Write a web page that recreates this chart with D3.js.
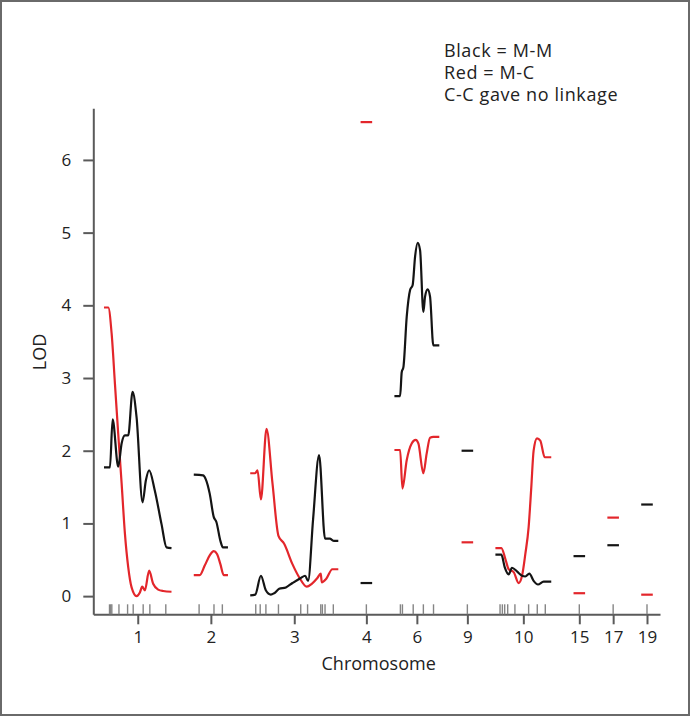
<!DOCTYPE html>
<html>
<head>
<meta charset="utf-8">
<script src="https://cdn.jsdelivr.net/npm/d3@7"></script>
<style>
  html, body { margin: 0; padding: 0; background: #fff; }
  svg text { font-family: "Open Sans", sans-serif; fill: #222; }
</style>
</head>
<body>
<div id="chart"></div>
<script>
const width = 691;
const height = 717;

// chromosomes on the axis, their lengths (cM) and the gap between them
const chromosomes = ["1", "2", "3", "4", "6", "9", "10", "15", "17", "19"];
const chromLengths = [75.8, 38.4, 98.9, 13, 50.4, 13, 62.7, 13, 13, 13];
const gapCM = 25;

// M-M scans (black), [cM, LOD]
const mm1 = [[0,1.77],[6.7,1.77],[9.7,2.43],[16.0,1.78],[19.8,2.10],[23.5,2.21],[27.2,2.21],[32.1,2.81],[36.6,2.46],[43.3,1.29],[47.0,1.59],[50.7,1.73],[57.1,1.45],[64.6,0.99],[70.2,0.67],[75.8,0.66]];
const mm2 = [[0,1.67],[10.4,1.66],[13.4,1.61],[17.9,1.41],[22.4,1.09],[25.4,1.02],[29.9,0.76],[32.8,0.67],[38.4,0.67]];
const mm3 = [[0,0.01],[5.6,0.02],[12.0,0.28],[17.5,0.08],[23.1,0.02],[26.9,0.04],[32.5,0.10],[40.0,0.12],[47.4,0.18],[56.8,0.25],[61.6,0.28],[65.0,0.21],[70.6,1.06],[77.3,1.94],[84.0,0.79],[89.3,0.79],[94.1,0.76],[98.9,0.76]];
const mm6 = [[0,2.75],[6.4,2.75],[8.2,3.08],[10.1,3.15],[13.8,3.84],[17.6,4.21],[20.5,4.28],[23.2,4.67],[26.1,4.86],[28.8,4.76],[32.5,3.91],[34.4,4.12],[37.3,4.22],[40.0,4.12],[43.7,3.45],[50.4,3.45]];
const mm10 = [[0,0.57],[6.7,0.57],[10.4,0.40],[14.9,0.30],[18.6,0.39],[24.2,0.34],[29.9,0.28],[33.6,0.27],[38.1,0.31],[42.9,0.21],[47.8,0.16],[54.1,0.20],[62.7,0.20]];

// M-C scans (red)
const mc1 = [[0,3.97],[4.8,3.97],[8.6,3.61],[12.3,2.92],[16.0,2.23],[19.8,1.55],[23.5,0.86],[27.2,0.40],[31.0,0.12],[36.6,0.00],[40.3,0.05],[42.9,0.13],[45.9,0.08],[50.7,0.35],[55.2,0.17],[60.8,0.09],[66.4,0.07],[75.8,0.06]];
const mc2 = [[0,0.29],[6.7,0.29],[12.3,0.42],[17.9,0.56],[22.4,0.62],[26.1,0.58],[29.9,0.44],[33.6,0.29],[38.4,0.29]];
const mc3 = [[0,1.69],[5.6,1.69],[8.2,1.73],[12.0,1.33],[18.3,2.30],[25.0,1.55],[31.7,0.83],[38.1,0.72],[47.4,0.44],[54.9,0.26],[63.5,0.13],[69.1,0.17],[75.4,0.25],[79.2,0.31],[80.3,0.19],[85.4,0.24],[92.2,0.37],[98.9,0.37]];
const mc6 = [[0,2.01],[6.4,2.01],[9.0,1.48],[13.8,1.87],[19.4,2.10],[23.9,2.15],[26.9,2.10],[32.5,1.69],[36.2,1.96],[40.0,2.18],[43.7,2.19],[50.4,2.19]];
const mc10 = [[0,0.66],[6.7,0.66],[11.2,0.51],[14.9,0.37],[20.5,0.33],[26.1,0.18],[29.9,0.28],[33.6,0.58],[37.3,0.95],[40.3,1.50],[42.9,2.00],[46.7,2.17],[50.4,2.14],[55.3,1.91],[62.7,1.91]];

// chromosomes with a single marker
const singleChroms = ["4", "9", "15", "17", "19"];
const singleMM = [0.18, 2.00, 0.55, 0.70, 1.26];
const singleMC = [6.52, 0.74, 0.04, 1.08, 0.02];

// marker positions (cM) for the rug
const markers1 = [6.2, 7.5, 8.8, 16.8, 26.5, 32.8, 44.0, 51.5, 69.4];
const markers2 = [6.0, 22.7, 32.1];
const markers3 = [6.2, 11.2, 17.6, 31.7, 56.7, 64.4, 79.2, 81.0, 84.0, 93.3];
const markers6 = [6.7, 9.0, 21.1, 32.5, 43.9];
const markers10 = [5.2, 7.8, 10.4, 13.8, 21.9, 37.3, 47.0, 56.0];

const yTicks = [0, 1, 2, 3, 4, 5, 6];
const legendLines = ["Black = M-M", "Red = M-C", "C-C gave no linkage"];

const blackCol = "#141414";
const redCol = "#e3262b";
const axisCol = "#5a5a5a";

// start of every chromosome along the genome axis
let acc = 0;
const chromStart = {};
const chromLen = {};
chromosomes.forEach((c, i) => {
    chromStart[c] = acc;
    chromLen[c] = chromLengths[i];
    acc += chromLengths[i] + gapCM;
});

const svg = d3.select("#chart")
    .append("svg")
    .attr("width", width)
    .attr("height", height);

svg.append("rect")
    .attr("x", 1).attr("y", 1)
    .attr("width", width - 3).attr("height", height - 3)
    .attr("fill", "none")
    .attr("stroke", "#6a6a6a")
    .attr("stroke-width", 2);

const x = d3.scaleLinear().domain([-12, 624.3]).range([93.3, 660]);
const y = d3.scaleLinear().domain([-0.25, 6.71]).range([614.3, 108.3]);

// y axis
const yAxis = svg.append("g")
    .attr("transform", `translate(${x.range()[0]},0)`)
    .call(d3.axisLeft(y).tickValues(yTicks).tickFormat(d3.format("d"))
        .tickSize(10).tickSizeOuter(0).tickPadding(12));

// x axis with chromosome labels at the middle of each chromosome
const xAxis = svg.append("g")
    .attr("transform", `translate(0,${y.range()[0]})`)
    .call(d3.axisBottom(x)
        .tickValues(chromosomes.map(c => chromStart[c] + chromLen[c] / 2))
        .tickFormat((d, i) => chromosomes[i])
        .tickSize(10).tickSizeOuter(0).tickPadding(7));

[yAxis, xAxis].forEach(g => {
    g.select(".domain").attr("stroke", axisCol).attr("stroke-width", 2);
    g.selectAll(".tick line").attr("stroke", axisCol).attr("stroke-width", 2);
    g.selectAll(".tick text")
        .attr("font-size", 17)
        .attr("font-family", "'Open Sans', sans-serif")
        .attr("fill", "#222");
});

// marker rug above the x axis
const rug = [["1", markers1], ["2", markers2], ["3", markers3], ["6", markers6], ["10", markers10]]
    .flatMap(([c, ms]) => ms.map(m => chromStart[c] + m))
    .concat(singleChroms.map(c => chromStart[c] + chromLen[c] / 2));

svg.append("g")
    .selectAll("line")
    .data(rug)
    .join("line")
    .attr("x1", d => x(d)).attr("x2", d => x(d))
    .attr("y1", y.range()[0] - 10).attr("y2", y.range()[0])
    .attr("stroke", "#858585")
    .attr("stroke-width", 1.4);

// LOD curves
const line = d3.line()
    .x(d => x(d[0]))
    .y(d => y(d[1]))
    .curve(d3.curveMonotoneX);

function drawScan(chrom, pts, colour) {
    const s = chromStart[chrom];
    svg.append("path")
        .datum(pts.map(p => [s + p[0], p[1]]))
        .attr("d", line)
        .attr("fill", "none")
        .attr("stroke", colour)
        .attr("stroke-width", 2.2)
        .attr("stroke-linejoin", "round");
}

[["1", mc1], ["2", mc2], ["3", mc3], ["6", mc6], ["10", mc10]]
    .forEach(([c, pts]) => drawScan(c, pts, redCol));
singleChroms.forEach((c, i) => drawScan(c, [[0, singleMC[i]], [chromLen[c], singleMC[i]]], redCol));

[["1", mm1], ["2", mm2], ["3", mm3], ["6", mm6], ["10", mm10]]
    .forEach(([c, pts]) => drawScan(c, pts, blackCol));
singleChroms.forEach((c, i) => drawScan(c, [[0, singleMM[i]], [chromLen[c], singleMM[i]]], blackCol));

// axis titles
svg.append("text")
    .attr("x", (x.range()[0] + x.range()[1]) / 2 + 2)
    .attr("y", 670)
    .attr("text-anchor", "middle")
    .attr("font-size", 18)
    .text("Chromosome");

svg.append("text")
    .attr("transform", "translate(46,352) rotate(-90)")
    .attr("text-anchor", "middle")
    .attr("font-size", 18)
    .text("LOD");

// legend note
svg.append("g")
    .selectAll("text")
    .data(legendLines)
    .join("text")
    .attr("x", 444)
    .attr("y", (d, i) => 57 + i * 22)
    .attr("font-size", 18)
    .attr("letter-spacing", 0.6)
    .text(d => d);
</script>
</body>
</html>
